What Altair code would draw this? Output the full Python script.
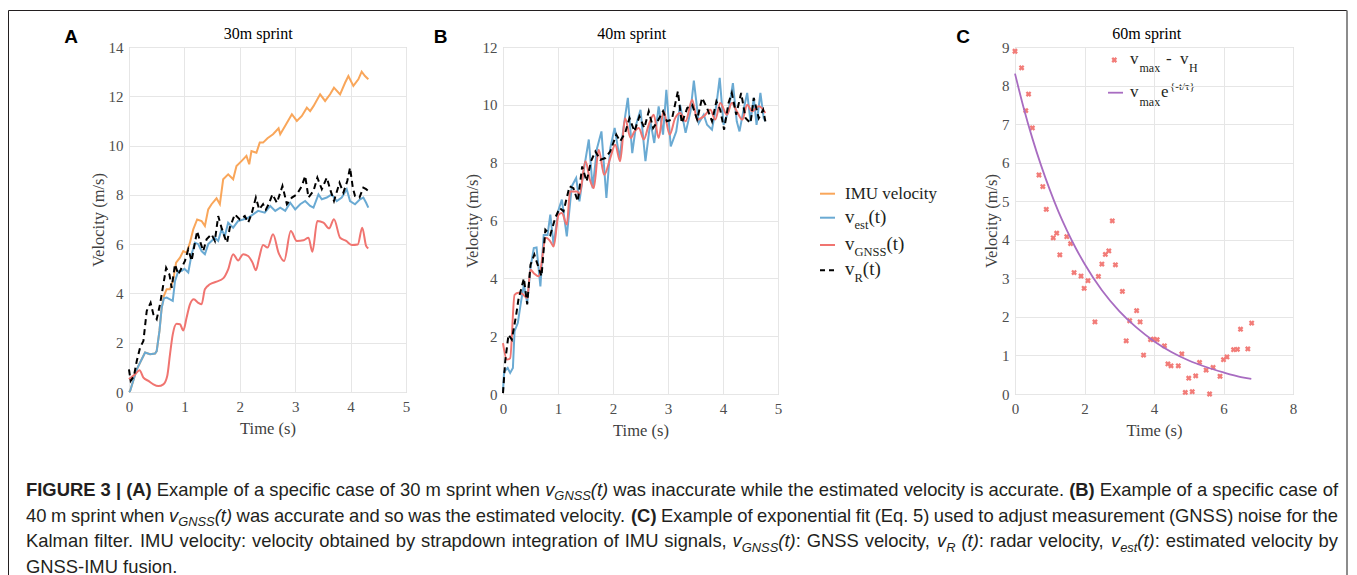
import altair as alt
import pandas as pd

# ---------------- data: (t [s], v [m/s]) ----------------
A_IMU = [(0,0),(0.02,0.04),(0.14,0.92),(0.29,1.6),(0.38,1.53),(0.47,1.56),(0.5,1.66),(0.55,2.48),(0.59,3.42),
         (0.63,3.9),(0.68,4.17),(0.74,4.17),(0.8,4.57),(0.85,5.25),(0.92,5.45),(0.98,5.72),(1.04,5.65),(1.1,6.06),
         (1.16,6.6),(1.23,7.0),(1.31,6.94),(1.37,6.74),(1.43,7.41),(1.49,7.62),(1.58,7.86),(1.64,7.62),(1.7,8.63),
         (1.79,8.83),(1.88,8.63),(1.94,9.17),(2.03,9.37),(2.12,9.58),(2.17,9.24),(2.21,9.78),(2.3,9.71),(2.36,10.12),
         (2.42,10.12),(2.5,10.3),(2.6,10.46),(2.7,10.7),(2.73,10.46),(2.82,10.8),(2.94,11.27),(3.03,11.0),(3.12,11.2),
         (3.21,11.54),(3.27,11.4),(3.33,11.6),(3.45,12.08),(3.54,11.81),(3.63,12.08),(3.7,12.35),(3.81,12.08),
         (3.9,12.55),(3.96,12.82),(4.05,12.42),(4.14,12.69),(4.2,13.0),(4.26,12.82),(4.32,12.69)]
A_EST = [(0,0),(0.02,0.04),(0.14,0.92),(0.29,1.6),(0.38,1.53),(0.47,1.56),(0.5,1.66),(0.55,2.48),(0.59,3.42),
         (0.63,3.8),(0.68,3.83),(0.74,3.76),(0.79,3.7),(0.83,4.5),(0.89,4.91),(0.95,4.91),(1.0,5.0),(1.07,4.85),
         (1.13,5.59),(1.19,6.06),(1.25,6.0),(1.31,5.72),(1.37,5.59),(1.43,6.0),(1.49,6.13),(1.55,6.26),(1.61,6.13),
         (1.67,6.6),(1.73,6.33),(1.79,6.87),(1.88,6.67),(1.97,6.94),(2.06,7.0),(2.15,7.07),(2.24,7.21),(2.33,7.35),
         (2.45,7.28),(2.55,7.55),(2.64,7.35),(2.73,7.48),(2.82,7.35),(2.91,7.68),(3.0,7.41),(3.09,7.62),(3.18,7.75),
         (3.27,7.55),(3.33,7.48),(3.42,8.02),(3.48,7.82),(3.57,7.89),(3.66,8.02),(3.75,7.75),(3.84,7.89),(3.93,8.23),
         (3.99,7.75),(4.08,7.62),(4.17,7.82),(4.23,7.89),(4.28,7.68),(4.32,7.48)]
A_GNSS = [(0,0.52),(0.11,0.72),(0.19,0.88),(0.26,0.58),(0.35,0.45),(0.44,0.31),(0.53,0.24),(0.62,0.31),(0.69,0.65),
          (0.74,1.53),(0.79,2.34),(0.86,2.77),(0.92,2.75),(0.98,2.5),(1.04,3.02),(1.1,3.56),(1.17,3.76),(1.25,3.62),
          (1.31,3.56),(1.37,4.17),(1.46,4.37),(1.58,4.48),(1.7,4.61),(1.79,4.98),(1.88,5.59),(1.97,5.34),(2.06,5.59),
          (2.15,5.52),(2.23,5.25),(2.29,4.94),(2.35,5.45),(2.42,5.97),(2.5,5.86),(2.6,6.4),(2.7,5.65),(2.8,5.32),
          (2.92,6.53),(3.03,6.13),(3.15,6.16),(3.24,6.26),(3.31,5.69),(3.4,6.94),(3.51,6.87),(3.61,6.64),(3.7,7.01),
          (3.81,6.26),(3.92,6.13),(4.02,5.97),(4.13,5.99),(4.21,6.67),(4.28,5.93),(4.32,5.83)]
A_RADAR = [(0,0.92),(0.03,0.45),(0.09,0.65),(0.14,1.26),(0.2,1.8),(0.26,2.07),(0.32,3.29),(0.39,3.62),(0.44,3.15),
           (0.5,2.95),(0.56,3.56),(0.61,4.23),(0.67,5.04),(0.73,4.77),(0.77,4.23),(0.83,5.18),(0.89,4.77),(0.95,5.04),
           (1.01,5.32),(1.07,5.79),(1.13,5.32),(1.19,6.06),(1.23,6.53),(1.29,6.06),(1.34,5.72),(1.4,6.2),(1.49,6.4),
           (1.55,6.13),(1.61,7.14),(1.67,6.67),(1.73,6.26),(1.77,6.06),(1.82,6.67),(1.91,7.21),(2.0,7.0),(2.09,7.14),
           (2.15,6.87),(2.21,7.21),(2.29,7.89),(2.35,7.41),(2.42,7.62),(2.47,7.4),(2.52,7.62),(2.59,8.02),(2.67,7.68),
           (2.77,8.36),(2.85,7.62),(2.94,7.89),(3.03,8.02),(3.12,8.36),(3.18,8.77),(3.24,7.89),(3.33,8.16),(3.4,8.7),
           (3.48,8.23),(3.57,8.7),(3.64,8.16),(3.7,7.75),(3.8,8.49),(3.87,8.09),(3.94,8.56),(3.99,9.1),(4.04,8.29),
           (4.08,7.95),(4.16,7.89),(4.23,8.29),(4.28,8.23),(4.32,8.16)]

B_EST = [(0,0.1),(0.02,0.78),(0.085,0.9),(0.13,0.73),(0.18,0.9),(0.21,2.17),(0.27,2.46),(0.32,3.1),(0.38,3.78),
         (0.44,3.15),(0.5,4.36),(0.56,5.05),(0.61,5.07),(0.68,3.72),(0.74,5.5),(0.81,5.5),(0.86,6.2),(0.92,5.16),
         (1.01,6.37),(1.07,6.72),(1.16,5.45),(1.25,7.18),(1.33,7.47),(1.39,6.66),(1.47,7.76),(1.56,8.8),(1.63,7.12),
         (1.71,8.5),(1.79,9.08),(1.88,6.78),(1.95,8.5),(2.03,9.2),(2.12,8.16),(2.19,9.2),(2.27,10.24),(2.35,8.33),
         (2.42,9.31),(2.5,9.83),(2.59,8.05),(2.68,9.43),(2.75,8.68),(2.83,9.95),(2.91,8.97),(2.97,10.52),(3.05,8.56),
         (3.15,9.08),(3.22,10.0),(3.32,9.03),(3.41,9.78),(3.47,10.84),(3.56,9.37),(3.65,9.66),(3.71,9.31),(3.8,9.14),
         (3.88,10.0),(3.94,10.93),(4.01,9.31),(4.1,9.78),(4.18,10.75),(4.25,9.43),(4.3,9.08),(4.38,9.89),(4.44,10.41),
         (4.5,9.43),(4.56,10.24),(4.61,9.31),(4.68,10.41),(4.74,9.54),(4.77,9.43)]
B_GNSS = [(0,1.76),(0.07,1.19),(0.13,1.24),(0.21,3.43),(0.28,3.5),(0.35,3.46),(0.44,3.32),(0.5,4.3),(0.56,4.18),
          (0.65,4.07),(0.78,5.4),(0.86,5.28),(0.92,5.1),(1.01,6.2),(1.07,6.26),(1.16,5.86),(1.22,7.0),(1.35,7.0),
          (1.39,6.9),(1.5,8.05),(1.58,7.41),(1.65,7.12),(1.74,8.45),(1.84,7.58),(1.95,8.16),(2.04,8.62),(2.13,8.05),
          (2.22,9.54),(2.32,8.85),(2.39,9.08),(2.47,9.2),(2.56,8.8),(2.65,9.31),(2.74,9.66),(2.83,8.85),(2.92,9.78),
          (3.03,8.97),(3.13,9.54),(3.22,9.72),(3.32,9.43),(3.44,10.18),(3.53,9.49),(3.65,9.6),(3.77,9.83),(3.86,9.49),
          (3.95,10.06),(4.07,9.66),(4.16,10.06),(4.25,9.78),(4.35,9.49),(4.44,10.0),(4.53,9.78),(4.65,9.95),(4.77,9.72)]
B_RADAR = [(0,0.03),(0.04,1.13),(0.1,2.05),(0.16,1.88),(0.24,2.74),(0.28,3.26),(0.38,4.0),(0.44,3.1),(0.5,4.47),
           (0.57,4.82),(0.63,4.47),(0.7,4.07),(0.77,5.68),(0.86,5.5),(0.95,6.09),(1.03,6.43),(1.1,6.32),(1.21,7.18),
           (1.28,7.12),(1.36,6.66),(1.44,7.87),(1.52,7.35),(1.6,8.05),(1.68,8.39),(1.77,8.1),(1.86,8.16),(1.95,8.39),
           (2.06,8.97),(2.13,8.74),(2.22,9.03),(2.3,9.54),(2.39,9.08),(2.48,9.6),(2.57,9.2),(2.65,9.78),(2.73,9.2),
           (2.81,9.43),(2.91,9.78),(2.98,9.43),(3.07,9.49),(3.18,10.47),(3.25,9.37),(3.35,9.89),(3.44,10.0),(3.53,9.49),
           (3.62,10.24),(3.71,9.89),(3.8,9.43),(3.88,10.12),(3.95,9.83),(4.02,9.14),(4.1,10.06),(4.16,10.41),(4.24,9.66),
           (4.33,10.41),(4.41,9.54),(4.5,9.37),(4.56,10.24),(4.65,9.54),(4.73,9.83),(4.77,9.43)]

C_T = [0.0,0.19,0.31,0.39,0.5,0.69,0.8,0.9,1.1,1.2,1.29,1.49,1.6,1.7,1.9,1.99,2.1,2.3,2.4,2.5,2.6,2.7,2.8,2.89,
       3.09,3.2,3.3,3.5,3.6,3.7,3.9,3.99,4.09,4.3,4.4,4.49,4.7,4.8,4.9,5.0,5.1,5.2,5.31,5.5,5.6,5.7,5.9,6.0,6.1,
       6.29,6.4,6.49,6.7,6.81]
C_V = [8.89,8.46,7.35,7.78,6.9,5.68,5.38,4.79,4.05,4.17,3.61,4.08,3.9,3.15,3.06,2.74,2.94,1.87,3.05,3.37,3.62,3.71,
       4.49,3.35,2.66,1.38,1.9,2.16,1.87,1.01,1.41,1.42,1.41,1.25,0.78,0.73,0.73,1.04,0.04,0.41,0.06,0.47,0.82,0.62,
       0.0,0.69,0.46,0.89,0.96,1.15,1.16,1.68,1.17,1.84]
C_FIT_T = [0,0.25,0.5,0.75,1,1.25,1.5,1.75,2,2.5,3,3.5,4,4.5,5,5.5,6,6.5,6.8]
C_FIT_V = [8.31,7.42,6.63,5.93,5.30,4.73,4.23,3.78,3.38,2.69,2.15,1.72,1.37,1.09,0.87,0.70,0.56,0.44,0.39]

TITLES = ["30m sprint", "40m sprint", "60m sprint"]
LETTERS = ["A", "B", "C"]
A_YTICKS = [0, 2, 4, 6, 8, 10, 12, 14]
B_YTICKS = [0, 2, 4, 6, 8, 10, 12]
C_YTICKS = [0, 1, 2, 3, 4, 5, 6, 7, 8, 9]
AB_XTICKS = [0, 1, 2, 3, 4, 5]
C_XTICKS = [0, 2, 4, 6, 8]

C_ORANGE, C_BLUE, C_RED, C_BLACK = "#f9a65a", "#6aaad3", "#f07470", "#000000"
C_PURPLE, C_MARK = "#a86cc1", "#f27c78"
SERIF, SANS = "Liberation Serif", "Liberation Sans"
TXT = "#231f20"

# ---------------- panels ----------------
def enc(xdom, xticks, ydom, yticks):
    x = alt.X("t:Q", scale=alt.Scale(domain=xdom, nice=False, zero=False),
              axis=alt.Axis(values=xticks, title="Time (s)", format="d"))
    y = alt.Y("v:Q", scale=alt.Scale(domain=ydom, nice=False, zero=False),
              axis=alt.Axis(values=yticks, title="Velocity (m/s)", format="d"))
    return x, y

def line(pairs, color, x, y, dash=None, interp="linear", sw=2.0):
    kw = dict(color=color, strokeWidth=sw, interpolate=interp)
    if dash:
        kw["strokeDash"] = dash
    return alt.Chart(pd.DataFrame(pairs, columns=["t", "v"])).mark_line(**kw).encode(x=x, y=y)

BOX = alt.ViewBackground(stroke="#c4c4c4", strokeWidth=1)

xa, ya = enc([0, 5], AB_XTICKS, [0, 14], A_YTICKS)
panelA = alt.layer(
    line(A_IMU, C_ORANGE, xa, ya),
    line(A_EST, C_BLUE, xa, ya),
    line(A_GNSS, C_RED, xa, ya, interp="monotone"),
    line(A_RADAR, C_BLACK, xa, ya, dash=[6, 4]),
).properties(width=277, height=345, view=BOX)

xb, yb = enc([0, 5], AB_XTICKS, [0, 12], B_YTICKS)
panelB = alt.layer(
    line(B_EST, C_BLUE, xb, yb),
    line(B_GNSS, C_RED, xb, yb, interp="monotone"),
    line(B_RADAR, C_BLACK, xb, yb, dash=[6, 4]),
).properties(width=275, height=347, view=BOX)

xc, yc = enc([0, 8], C_XTICKS, [0, 9], C_YTICKS)
pts = alt.Chart(pd.DataFrame({"t": C_T, "v": C_V})).mark_point(
    shape="cross", angle=45, filled=True, size=34, color=C_MARK, opacity=1).encode(x=xc, y=yc)
fit = alt.Chart(pd.DataFrame({"t": C_FIT_T, "v": C_FIT_V})).mark_line(
    color=C_PURPLE, strokeWidth=1.8, interpolate="monotone").encode(x=xc, y=yc)
panelC = alt.layer(pts, fit).properties(width=278, height=347, view=BOX)

# ---------------- annotation layer (legends, letters, titles, caption, frame) ----------------
OX, OY = 875, 46   # page position of this cell's origin (between panel B and C)

ARIAL = dict(zip(" !\"#$%&'()*+,-./", [278,278,355,556,556,889,667,191,333,333,389,584,278,333,278,278]))
ARIAL.update({d: 556 for d in "0123456789"})
ARIAL.update(dict(zip(":;<=>?@", [278,278,584,584,584,556,1015])))
ARIAL.update(dict(zip("ABCDEFGHIJKLMNOPQRSTUVWXYZ",
    [667,667,722,722,667,611,778,722,278,500,667,556,833,722,778,667,778,722,667,611,722,667,944,667,667,611])))
ARIAL.update(dict(zip("abcdefghijklmnopqrstuvwxyz",
    [556,556,500,556,556,278,556,556,222,222,500,222,833,556,556,556,556,333,500,278,556,500,722,500,500,500])))
ARIAL["|"] = 260
ARIAL_B = {" ": 278, "(": 333, ")": 333, "|": 280, "3": 556, "A": 722, "B": 722, "C": 722,
           "E": 667, "F": 611, "G": 778, "I": 278, "R": 722, "U": 722}
TIMES = {"v": 500, "e": 444, "s": 389, "t": 278, "(": 333, ")": 333, "G": 722, "N": 722, "S": 556, "R": 667}

CAP_FS = 18.4
SUB_K = 0.7

def piece_w(style, s):
    tab = ARIAL_B if style == "b" else ARIAL
    fs = CAP_FS * (SUB_K if style == "s" else 1)
    return sum(tab.get(ch, 556) for ch in s) * fs / 1000.0

CAPTION = [
    [("b", "FIGURE 3 | (A)"), ("r", " Example of a specific case of 30 m sprint when "), ("i", "v"), ("s", "GNSS"),
     ("i", "(t)"), ("r", " was inaccurate while the estimated velocity is accurate. "), ("b", "(B)"),
     ("r", " Example of a specific case of")],
    [("r", "40 m sprint when "), ("i", "v"), ("s", "GNSS"), ("i", "(t)"),
     ("r", " was accurate and so was the estimated velocity. "), ("b", "(C)"),
     ("r", " Example of exponential fit (Eq. 5) used to adjust measurement (GNSS) noise for the")],
    [("r", "Kalman filter. IMU velocity: velocity obtained by strapdown integration of IMU signals, "), ("i", "v"),
     ("s", "GNSS"), ("i", "(t)"), ("r", ": GNSS velocity, "), ("i", "v"), ("s", "R"), ("i", " (t)"),
     ("r", ": radar velocity, "), ("i", "v"), ("s", "est"), ("i", "(t)"), ("r", ": estimated velocity by")],
    [("r", "GNSS-IMU fusion.")],
]
JUSTIFY = [True, True, True, False]
CAP_X0, CAP_X1, CAP_Y0, CAP_PITCH = 26, 1338, 495, 25.7

cap_rows = []
for li, runs in enumerate(CAPTION):
    words = [[]]
    for style, txt in runs:
        for k, part in enumerate(txt.split(" ")):
            if k > 0 and words[-1]:
                words.append([])
            if part:
                words[-1].append((style, part))
    words = [w for w in words if w]
    widths = [sum(piece_w(s, t) for s, t in w) for w in words]
    space = 278 * CAP_FS / 1000.0
    natural = sum(widths) + space * (len(words) - 1)
    gap = space + ((CAP_X1 - CAP_X0 - natural) / (len(words) - 1) if JUSTIFY[li] else 0)
    x = CAP_X0
    base = CAP_Y0 + li * CAP_PITCH
    for w, ww in zip(words, widths):
        xx = x
        for s, t in w:
            cap_rows.append(dict(x=xx - OX, y=base + (4.2 if s == "s" else 0) - OY, text=t,
                                 fs=CAP_FS * (SUB_K if s == "s" else 1), style=s))
            xx += piece_w(s, t)
        x += ww + gap
cap_df = pd.DataFrame(cap_rows)

# legend for panels A/B
LEG_AB = [
    (C_ORANGE, None, 192.7, [("IMU velocity", 17, 0)]),
    (C_BLUE, None, 216.7, [("v", 19, 0), ("est", 12.5, 6.3), ("(t)", 19, 0)]),
    (C_RED, None, 244.0, [("v", 19, 0), ("GNSS", 12.5, 6.3), ("(t)", 19, 0)]),
    (C_BLACK, [5, 4], 269.3, [("v", 19, 0), ("R", 12.5, 6.3), ("(t)", 19, 0)]),
]
leg_text, leg_lines, leg_dash = [], [], []
for color, dash, ly, pieces in LEG_AB:
    (leg_dash if dash else leg_lines).append(dict(x=820 - OX, x2=835 - OX, y=ly - OY, y2=ly - OY, c=color, sw=2))
    x = 845
    for t, fs, dy in pieces:
        leg_text.append(dict(x=x - OX, y=ly + 5 + dy - OY, text=t, fs=fs))
        x += sum(TIMES.get(ch, 500) for ch in t) * fs / 1000.0 if t != "IMU velocity" else 0

# legend for panel C
LEG_C = [("v", 1130, 63.3, 17), ("max", 1139.5, 70.7, 12), ("-", 1166, 63.3, 17), ("v", 1180, 63.3, 17),
         ("H", 1189, 70.7, 12), ("v", 1130, 96, 17), ("max", 1139.5, 105, 12), ("e", 1161, 96, 17),
         ("{-t/\u03c4}", 1170, 89, 11)]
for t, x, y, fs in LEG_C:
    leg_text.append(dict(x=x - OX, y=y - OY, text=t, fs=fs))
leg_lines.append(dict(x=1108 - OX, x2=1123 - OX, y=91.7 - OY, y2=91.7 - OY, c=C_PURPLE, sw=1.8))
marker_df = pd.DataFrame([dict(x=1114.3 - OX, y=59 - OY)])

# frame around the figure (kept inside the 1357 px page width)
frame = [dict(x=8.5 - OX, x2=8.5 - OX, y=9.5 - OY, y2=575 - OY, c=TXT, sw=1),
         dict(x=8.5 - OX, x2=1347 - OX, y=9.5 - OY, y2=9.5 - OY, c=TXT, sw=1),
         dict(x=1347 - OX, x2=1347 - OX, y=9.5 - OY, y2=575 - OY, c="#8c8c8c", sw=2)]

letters_df = pd.DataFrame([dict(x=x - OX, y=41.7 - OY, text=t) for t, x in zip(LETTERS, [71, 440.5, 963])])
titles_df = pd.DataFrame([dict(x=x - OX, y=37.5 - OY, text=t) for t, x in zip(TITLES, [258.3, 631.7, 1146.7])])

PX = alt.X("x:Q", scale=None, axis=None)
PY = alt.Y("y:Q", scale=None, axis=None)

def texts(df, **mk):
    e = dict(x=PX, y=PY, text="text:N")
    if "fs" in df.columns:
        e["size"] = alt.Size("fs:Q", scale=None, legend=None)
    return alt.Chart(df).mark_text(**mk).encode(**e)

def rules(rows, **mk):
    return alt.Chart(pd.DataFrame(rows)).mark_rule(**mk).encode(
        x=PX, x2="x2:Q", y=PY, y2="y2:Q",
        color=alt.Color("c:N", scale=None, legend=None),
        strokeWidth=alt.StrokeWidth("sw:Q", scale=None, legend=None))

annot = alt.layer(
    rules(frame),
    rules(leg_lines),
    rules(leg_dash, strokeDash=[5, 4]),
    alt.Chart(marker_df).mark_point(shape="cross", angle=45, filled=True, size=34, color=C_MARK, opacity=1)
       .encode(x=PX, y=PY),
    texts(pd.DataFrame(leg_text), align="left", baseline="alphabetic", font=SERIF, color=TXT),
    texts(letters_df, align="center", baseline="alphabetic", font=SANS, fontWeight="bold", fontSize=19, color="#000000"),
    texts(titles_df, align="center", baseline="alphabetic", font=SERIF, fontSize=16, color="#000000"),
    texts(cap_df[cap_df["style"] == "b"], align="left", baseline="alphabetic", font=SANS, fontWeight="bold", color=TXT),
    texts(cap_df[cap_df["style"] == "r"], align="left", baseline="alphabetic", font=SANS, color=TXT),
    texts(cap_df[cap_df["style"].isin(["i", "s"])], align="left", baseline="alphabetic", font=SANS,
          fontStyle="italic", color=TXT),
).properties(width=43, height=347, view=alt.ViewBackground(strokeWidth=0))

chart = alt.hconcat(panelA, panelB, annot, panelC, spacing=97, bounds="flush").resolve_scale(
    x="independent", y="independent"
).properties(
    padding={"left": 0, "top": 1, "right": 0, "bottom": 0}
).configure_view(strokeWidth=0).configure_axis(
    labelFont=SERIF, labelFontSize=15, labelColor="#4d4d4d", labelFlush=False, labelOverlap=False,
    titleFont=SERIF, titleFontSize=16.5, titleFontWeight="normal", titleColor="#404040",
    grid=True, gridColor="#e6e6e6", gridWidth=1, domain=False, ticks=False,
    labelPadding=6, titlePadding=2,
).configure_axisX(labelPadding=7, titlePadding=6)

chart.save("out.html", embed_options={"renderer": "svg", "actions": False})
